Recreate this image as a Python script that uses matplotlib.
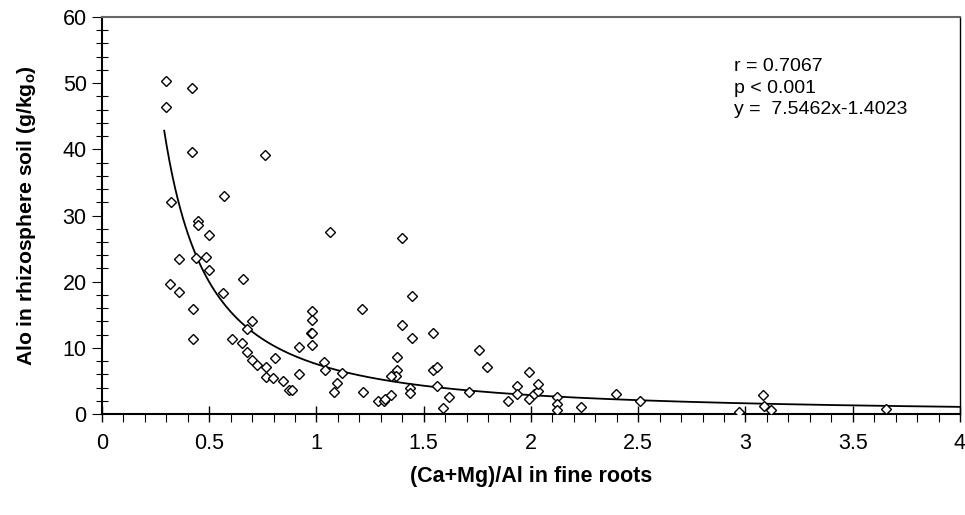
import numpy as np
import matplotlib.pyplot as plt
from matplotlib.ticker import MultipleLocator

plt.rcParams['font.family'] = ['Liberation Sans', 'DejaVu Sans']

# (Ca+Mg)/Al in fine roots
ratio = [0.30, 0.42, 0.30, 0.42, 0.76, 0.32, 0.57, 0.449, 0.449, 0.50,
         0.36, 0.44, 0.485, 0.50, 0.318, 0.36, 0.656, 0.566, 0.424, 0.424,
         0.698, 0.674, 0.608, 0.651, 0.676, 0.698, 0.723, 0.805, 0.765, 0.765,
         0.796, 0.842, 0.873, 1.063, 1.40, 1.447, 0.978, 0.978, 0.973, 0.978,
         0.978, 1.214, 1.40, 1.447, 1.545, 1.758, 1.796, 0.917, 0.884, 0.917,
         1.036, 1.041, 1.119, 1.094, 1.083, 1.218, 1.285, 1.316, 1.32, 1.347,
         1.374, 1.374, 1.369, 1.347, 1.436, 1.436, 1.545, 1.563, 1.56, 1.618,
         1.591, 1.711, 1.991, 1.935, 1.935, 1.893, 1.991, 2.014, 2.031, 2.031,
         2.12, 2.123, 2.12, 2.233, 2.395, 2.51, 2.968, 3.082, 3.086, 3.119,
         3.653]
# Alo in rhizosphere soil
alo = [50.3, 49.2, 46.4, 39.6, 39.1, 32.1, 32.9, 29.2, 28.5, 27.0,
       23.4, 23.6, 23.8, 21.7, 19.7, 18.5, 20.4, 18.3, 15.9, 11.4,
       14.1, 12.9, 11.4, 10.7, 9.3, 8.1, 7.4, 8.5, 7.1, 5.6,
       5.45, 5.05, 3.6, 27.5, 26.6, 17.9, 15.6, 14.2, 12.3, 12.2,
       10.5, 15.8, 13.5, 11.5, 12.3, 9.65, 7.1, 10.15, 3.7, 6.06,
       7.8, 6.6, 6.2, 4.7, 3.3, 3.3, 1.9, 1.9, 2.3, 2.8,
       8.6, 6.7, 5.8, 5.7, 4.0, 3.1, 6.7, 7.1, 4.3, 2.6,
       0.86, 3.3, 6.36, 4.3, 3.0, 1.97, 2.27, 3.0, 3.5, 4.5,
       2.5, 1.46, 0.55, 1.06, 2.98, 1.92, 0.35, 2.9, 1.16, 0.66,
       0.7]

# power fit shown on the chart: y = 7.5462 x^-1.4023
fit_a = 7.5462
fit_b = -1.4023
fit_start, fit_end = 0.29, 4.0

fig = plt.figure(figsize=(9.65, 5.15), dpi=100)
ax = fig.add_axes([0.1057, 0.1961, 0.8891, 0.7709])

ax.plot(ratio, alo, linestyle='none', marker='D', markersize=5,
        markerfacecolor='white', markeredgecolor='black', markeredgewidth=1.0,
        zorder=3)

xs = np.linspace(fit_start, fit_end, 300)
ax.plot(xs, fit_a * xs ** fit_b, color='black', linewidth=1.3, zorder=2)

ax.set_xlim(0, 4)
ax.set_ylim(0, 60)
ax.xaxis.set_major_locator(MultipleLocator(0.5))
ax.xaxis.set_minor_locator(MultipleLocator(0.1))
ax.yaxis.set_major_locator(MultipleLocator(10))
ax.yaxis.set_minor_locator(MultipleLocator(2))
ax.xaxis.set_major_formatter(plt.FuncFormatter(lambda v, p: f'{v:g}'))

ax.tick_params(axis='x', which='major', direction='inout', length=12, width=1,
               labelsize=15.5, pad=8)
ax.tick_params(axis='x', which='minor', direction='out', length=6, width=0.8)
ax.tick_params(axis='y', which='major', direction='out', length=7, width=0.8,
               labelsize=15.5, pad=4)
ax.tick_params(axis='y', which='minor', direction='inout', length=8, width=0.8)

for side in ['left', 'bottom']:
    ax.spines[side].set_linewidth(1.5)
ax.spines['right'].set_linewidth(1.0)
ax.spines['top'].set_linewidth(1.5)
ax.spines['top'].set_color('#666666')

ax.set_xlabel('(Ca+Mg)/Al in fine roots', fontsize=15.5, fontweight='bold',
              labelpad=8)
ax.set_ylabel('Alo in rhizosphere soil (g/kg$_\\mathregular{o}$)', fontsize=15.2,
              fontweight='bold', labelpad=18)

fig.text(0.761, 0.862, 'r = 0.7067', fontsize=14)
fig.text(0.761, 0.820, 'p < 0.001', fontsize=14)
fig.text(0.761, 0.778, 'y =  7.5462x-1.4023', fontsize=14)

plt.savefig('out.png', dpi=100)
